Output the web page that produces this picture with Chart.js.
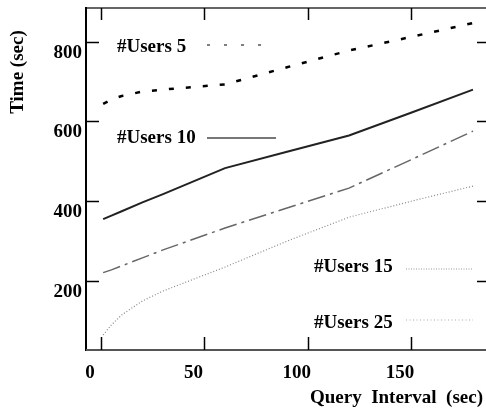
<!DOCTYPE html>
<html><head><meta charset="utf-8">
<script src="https://cdn.jsdelivr.net/npm/chart.js@4"></script>
<style>html,body{margin:0;padding:0;background:#fff;overflow:hidden}</style>
</head><body>
<canvas id="c" width="486" height="412"></canvas>
<script>
const queryInterval = [1, 5, 10, 20, 30, 60, 90, 120, 150, 180];
const users5  = [644, 655, 664, 675, 680, 693, 736, 778, 812, 847];
const users10 = [355, 364, 375, 397, 418, 483, 524, 565, 622, 680];
const users15 = [221, 228, 238, 258, 278, 333, 383, 433, 504, 576];
const users25 = [65, 90, 115, 150, 175, 235, 300, 360, 400, 438];
const seriesNames = ['#Users 5', '#Users 10', '#Users 15', '#Users 25'];
const xTicks = [0, 50, 100, 150];
const yTicks = [200, 400, 600, 800];
const xTitle = 'Query  Interval  (sec)';
const yTitle = 'Time (sec)';

const FONT = "'Liberation Serif', 'Times New Roman', serif";
const styles = [
  {color: '#000', width: 2.5, dash: [5, 12]},
  {color: '#222', width: 2, dash: []},
  {color: '#666', width: 1.5, dash: [18, 5, 3, 5]},
  {color: '#888', width: 1.2, dash: [1, 2]}
];
const legendSamples = [
  {color: '#555', width: 1.5, dash: [3, 14], x0: 207, x1: 265, ty: 47, ly: 45},
  {color: '#777', width: 2, dash: [], x0: 207, x1: 276, ty: 138, ly: 138},
  {color: '#999', width: 1.2, dash: [1, 1.5], x0: 406, x1: 472, ty: 267, ly: 269},
  {color: '#aaa', width: 1.2, dash: [1, 2.5], x0: 406, x1: 473, ty: 323, ly: 320}
];
const legendTextX = [117, 117, 314, 314];

const seriesValues = [users5, users10, users15, users25];
const datasets = seriesValues.map((vals, i) => ({
  label: seriesNames[i],
  data: queryInterval.map((x, j) => ({x: x, y: vals[j]})),
  borderColor: styles[i].color,
  borderWidth: styles[i].width,
  borderDash: styles[i].dash,
  pointRadius: 0,
  tension: 0,
  fill: false
}));

const framePlugin = {
  id: 'frame',
  afterDraw(chart) {
    const ctx = chart.ctx;
    const a = chart.chartArea;
    const xs = chart.scales.x, ys = chart.scales.y;
    ctx.save();
    ctx.setLineDash([]);
    ctx.lineWidth = 2;
    ctx.strokeStyle = '#666';
    ctx.beginPath(); ctx.moveTo(a.left, a.top); ctx.lineTo(486, a.top); ctx.stroke();
    ctx.strokeStyle = '#000';
    ctx.beginPath(); ctx.moveTo(a.left, a.top - 1); ctx.lineTo(a.left, a.bottom + 1); ctx.stroke();
    ctx.strokeStyle = '#555';
    ctx.beginPath(); ctx.moveTo(a.left, a.bottom); ctx.lineTo(486, a.bottom); ctx.stroke();
    ctx.lineWidth = 1.5;
    ctx.strokeStyle = '#000';
    xTicks.forEach(v => {
      const px = Math.round(xs.getPixelForValue(v)) + 0.5;
      ctx.beginPath(); ctx.moveTo(px, a.bottom); ctx.lineTo(px, a.bottom - 13); ctx.stroke();
      ctx.beginPath(); ctx.moveTo(px, a.top); ctx.lineTo(px, a.top + 12); ctx.stroke();
    });
    yTicks.forEach(v => {
      const py = Math.round(ys.getPixelForValue(v)) + 0.5;
      ctx.beginPath(); ctx.moveTo(a.left, py); ctx.lineTo(a.left + 13, py); ctx.stroke();
      ctx.beginPath(); ctx.moveTo(486, py); ctx.lineTo(477, py); ctx.stroke();
    });
    ctx.fillStyle = '#000';
    ctx.font = 'bold 19px ' + FONT;
    ctx.textAlign = 'right';
    ctx.textBaseline = 'middle';
    ctx.fillText(xTitle, 483, 398);
    ctx.save();
    ctx.translate(18, 72);
    ctx.rotate(-Math.PI / 2);
    ctx.textAlign = 'center';
    ctx.fillText(yTitle, 0, 0);
    ctx.restore();
    ctx.textAlign = 'left';
    seriesNames.forEach((name, i) => {
      const s = legendSamples[i];
      ctx.fillStyle = '#000';
      ctx.fillText(name, legendTextX[i], s.ty);
      ctx.strokeStyle = s.color;
      ctx.lineWidth = s.width;
      ctx.setLineDash(s.dash);
      ctx.beginPath(); ctx.moveTo(s.x0, s.ly); ctx.lineTo(s.x1, s.ly); ctx.stroke();
    });
    ctx.restore();
  }
};

new Chart(document.getElementById('c'), {
  type: 'line',
  data: {datasets: datasets},
  options: {
    responsive: false,
    animation: false,
    devicePixelRatio: 1,
    layout: {padding: {top: 8, left: 0, right: 0, bottom: 0}},
    plugins: {legend: {display: false}, tooltip: {enabled: false}},
    scales: {
      x: {
        type: 'linear', min: -7.3, max: 186.3,
        grid: {display: false, drawTicks: false}, border: {display: false},
        ticks: {color: '#000', font: {family: FONT, size: 19, weight: 'bold'}, padding: 12, labelOffset: -11, maxRotation: 0, autoSkip: false},
        afterBuildTicks(s) { s.ticks = xTicks.map(v => ({value: v})); },
        afterFit(s) { s.height = 62; s.paddingLeft = 0; s.paddingRight = 0; }
      },
      y: {
        type: 'linear', min: 27, max: 884.6,
        grid: {display: false, drawTicks: false}, border: {display: false},
        ticks: {color: '#000', font: {family: FONT, size: 19, weight: 'bold'}, padding: 4, labelOffset: 11},
        afterBuildTicks(s) { s.ticks = yTicks.map(v => ({value: v})); },
        afterFit(s) { s.width = 86; s.paddingTop = 0; s.paddingBottom = 0; }
      }
    }
  },
  plugins: [framePlugin]
});
</script>
</body></html>
